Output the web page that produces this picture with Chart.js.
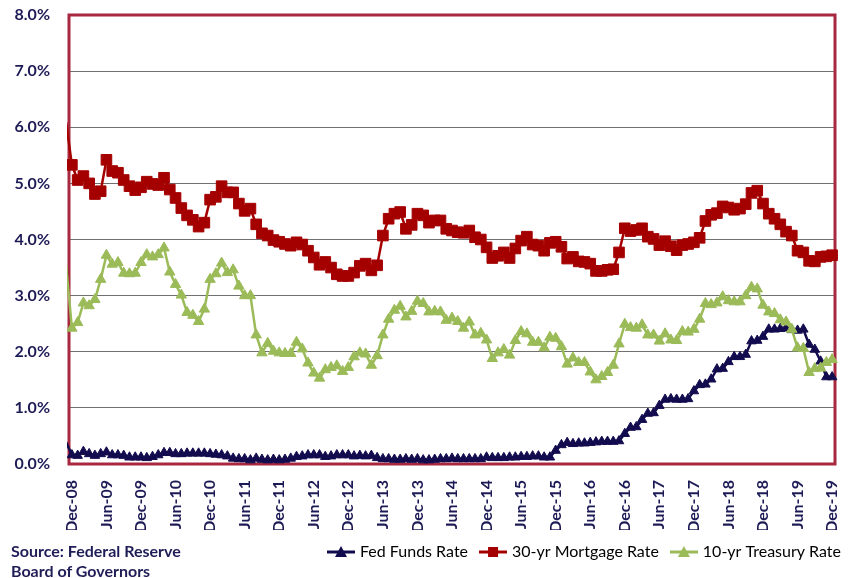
<!DOCTYPE html>
<html>
<head>
<meta charset="utf-8">
<script src="https://cdn.jsdelivr.net/npm/chart.js@4.4.1/dist/chart.umd.min.js"></script>
<style>
    html, body { margin: 0; padding: 0; background: #fff; }
    #wrap { position: relative; width: 852px; height: 578px; }
    #source { position: absolute; left: 11px; top: 541px; font: bold 16px Lato, sans-serif; color: #1f1d57; line-height: 20px; }
</style>
</head>
<body>
<div id="wrap">
    <canvas id="rates" width="852" height="578"></canvas>
    <div id="source">Source: Federal Reserve<br>Board of Governors</div>
</div>
<script>
// Monthly averages, Nov-08 (just off the left edge) through Dec-19, in percent
const fedFunds = [0.39, 0.16,
    0.15, 0.22, 0.18, 0.15, 0.18, 0.21, 0.16, 0.16, 0.15, 0.12, 0.12, 0.12, // 2009
    0.11, 0.13, 0.16, 0.20, 0.20, 0.18, 0.18, 0.19, 0.19, 0.19, 0.19, 0.18, // 2010
    0.17, 0.16, 0.14, 0.10, 0.09, 0.09, 0.07, 0.10, 0.08, 0.07, 0.08, 0.07, // 2011
    0.08, 0.10, 0.13, 0.14, 0.16, 0.16, 0.16, 0.13, 0.14, 0.16, 0.16, 0.16, // 2012
    0.14, 0.15, 0.14, 0.15, 0.11, 0.09, 0.09, 0.08, 0.08, 0.09, 0.08, 0.09, // 2013
    0.07, 0.07, 0.08, 0.09, 0.09, 0.10, 0.09, 0.09, 0.09, 0.09, 0.09, 0.12, // 2014
    0.11, 0.11, 0.11, 0.12, 0.12, 0.13, 0.13, 0.14, 0.14, 0.12, 0.12, 0.24, // 2015
    0.34, 0.38, 0.36, 0.37, 0.37, 0.38, 0.39, 0.40, 0.40, 0.40, 0.41, 0.54, // 2016
    0.65, 0.66, 0.79, 0.90, 0.91, 1.04, 1.15, 1.16, 1.15, 1.15, 1.16, 1.30, // 2017
    1.41, 1.42, 1.51, 1.69, 1.70, 1.82, 1.91, 1.91, 1.95, 2.19, 2.20, 2.27, // 2018
    2.40, 2.40, 2.41, 2.42, 2.39, 2.38, 2.40, 2.13, 2.04, 1.83, 1.55, 1.55  // 2019
];
const mortgage = [6.09, 5.33,
    5.06, 5.13, 5.00, 4.81, 4.86, 5.42, 5.22, 5.19, 5.06, 4.95, 4.88, 4.93,
    5.03, 4.99, 4.97, 5.10, 4.89, 4.74, 4.56, 4.43, 4.35, 4.23, 4.30, 4.71,
    4.76, 4.95, 4.84, 4.84, 4.64, 4.51, 4.55, 4.27, 4.11, 4.07, 3.99, 3.96,
    3.92, 3.89, 3.95, 3.91, 3.80, 3.68, 3.55, 3.60, 3.50, 3.38, 3.35, 3.35,
    3.41, 3.53, 3.57, 3.45, 3.54, 4.07, 4.37, 4.46, 4.49, 4.19, 4.26, 4.46,
    4.43, 4.30, 4.34, 4.34, 4.19, 4.16, 4.13, 4.12, 4.16, 4.04, 4.00, 3.86,
    3.67, 3.71, 3.77, 3.67, 3.84, 3.98, 4.05, 3.91, 3.89, 3.80, 3.94, 3.96,
    3.87, 3.66, 3.69, 3.61, 3.60, 3.57, 3.44, 3.44, 3.46, 3.47, 3.77, 4.20,
    4.15, 4.17, 4.20, 4.05, 4.01, 3.90, 3.97, 3.88, 3.81, 3.90, 3.92, 3.95,
    4.03, 4.33, 4.44, 4.47, 4.59, 4.57, 4.53, 4.55, 4.63, 4.83, 4.87, 4.64,
    4.46, 4.37, 4.27, 4.14, 4.07, 3.80, 3.77, 3.62, 3.61, 3.69, 3.70, 3.72
];
const treasury = [3.53, 2.42,
    2.52, 2.87, 2.82, 2.93, 3.29, 3.72, 3.56, 3.59, 3.40, 3.39, 3.40, 3.59,
    3.73, 3.69, 3.73, 3.85, 3.42, 3.20, 3.01, 2.70, 2.65, 2.54, 2.76, 3.29,
    3.39, 3.58, 3.41, 3.46, 3.17, 3.00, 3.00, 2.30, 1.98, 2.15, 2.01, 1.98,
    1.97, 1.97, 2.17, 2.05, 1.80, 1.62, 1.53, 1.68, 1.72, 1.75, 1.65, 1.72,
    1.91, 1.98, 1.96, 1.76, 1.93, 2.30, 2.58, 2.74, 2.81, 2.62, 2.72, 2.90,
    2.86, 2.71, 2.72, 2.71, 2.56, 2.60, 2.54, 2.42, 2.53, 2.30, 2.33, 2.21,
    1.88, 1.98, 2.04, 1.94, 2.20, 2.36, 2.32, 2.17, 2.17, 2.07, 2.26, 2.24,
    2.09, 1.78, 1.89, 1.81, 1.81, 1.64, 1.50, 1.56, 1.63, 1.76, 2.14, 2.49,
    2.43, 2.42, 2.48, 2.30, 2.30, 2.19, 2.32, 2.21, 2.20, 2.36, 2.35, 2.40,
    2.58, 2.86, 2.84, 2.87, 2.98, 2.91, 2.89, 2.89, 3.00, 3.15, 3.12, 2.83,
    2.71, 2.68, 2.57, 2.53, 2.40, 2.07, 2.06, 1.63, 1.70, 1.71, 1.81, 1.86
];

// one tick every 6 months, starting at Dec-08
const tickLabels = ['Dec-08', 'Jun-09', 'Dec-09', 'Jun-10', 'Dec-10', 'Jun-11', 'Dec-11',
    'Jun-12', 'Dec-12', 'Jun-13', 'Dec-13', 'Jun-14', 'Dec-14', 'Jun-15', 'Dec-15',
    'Jun-16', 'Dec-16', 'Jun-17', 'Dec-17', 'Jun-18', 'Dec-18', 'Jun-19', 'Dec-19'];

const navy = '#120c4f';
const red = '#a50000';
const green = '#9bbb59';
const labelColor = '#1d1b55';

// month index: Dec-08 = 0, so the Nov-08 value sits at -1 (clipped)
function toPoints(values) {
    return values.map((v, i) => ({ x: i - 1, y: v }));
}

// small line+marker picture for the legend
function legendIcon(color, shape) {
    const c = document.createElement('canvas');
    c.width = 28;
    c.height = 14;
    const g = c.getContext('2d');
    g.strokeStyle = color;
    g.lineWidth = 3;
    g.beginPath();
    g.moveTo(0, 7);
    g.lineTo(28, 7);
    g.stroke();
    g.fillStyle = color;
    g.beginPath();
    if (shape === 'rect') {
        g.rect(9, 2, 10, 10);
    } else {
        g.moveTo(14, 1);
        g.lineTo(20, 12);
        g.lineTo(8, 12);
        g.closePath();
    }
    g.fill();
    return c;
}

function makeDataset(label, values, color, shape, radius) {
    return {
        label: label,
        data: toPoints(values),
        borderColor: color,
        backgroundColor: color,
        borderWidth: 2.5,
        pointStyle: shape,
        pointRadius: ctx => ctx.dataIndex === 0 ? 0 : radius,
        pointBorderWidth: 1,
        pointBorderColor: color,
        pointBackgroundColor: color,
        tension: 0,
        clip: { left: 2, top: 8, right: 8, bottom: 8 }
    };
}

// dark red frame round the plot area, under the series
const plotBorder = {
    id: 'plotBorder',
    beforeDatasetsDraw(chart) {
        const { ctx, chartArea: a } = chart;
        ctx.save();
        ctx.strokeStyle = '#a8283f';
        ctx.lineWidth = 3;
        ctx.strokeRect(a.left, a.top, a.right - a.left, a.bottom - a.top);
        ctx.restore();
    }
};

// push the legend a little further right, nearer the canvas edge
const legendShift = {
    id: 'legendShift',
    afterLayout(chart) {
        chart.legend.left += 20;
        chart.legend.right += 20;
    }
};

const datasets = [
    makeDataset('Fed Funds Rate', fedFunds, navy, 'triangle', 5.5),
    makeDataset('30-yr Mortgage Rate', mortgage, red, 'rect', 7.5),
    makeDataset('10-yr Treasury Rate', treasury, green, 'triangle', 6)
];
// later series drawn on top, like the original
datasets.forEach((d, i) => { d.order = datasets.length - i; });

const ctx = document.getElementById('rates').getContext('2d');
new Chart(ctx, {
    type: 'line',
    data: { datasets: datasets },
    options: {
        responsive: false,
        animation: false,
        devicePixelRatio: 1,
        layout: { padding: { top: 15, right: 17, bottom: 8, left: 0 } },
        scales: {
            x: {
                type: 'linear',
                min: -0.5,
                max: 132.5,
                afterBuildTicks: scale => {
                    scale.ticks = tickLabels.map((t, i) => ({ value: i * 6 }));
                },
                afterFit: scale => {
                    scale.height = 66;
                    scale.paddingLeft = 0;
                    scale.paddingRight = 0;
                },
                grid: { display: false },
                border: { display: false },
                ticks: {
                    autoSkip: false,
                    minRotation: 90,
                    maxRotation: 90,
                    padding: 8,
                    color: labelColor,
                    font: { family: 'Lato', size: 16, weight: 'bold' },
                    callback: v => tickLabels[Math.round(v / 6)]
                }
            },
            y: {
                min: 0,
                max: 8,
                afterFit: scale => {
                    scale.width = 69;
                    scale.paddingTop = 0;
                    scale.paddingBottom = 0;
                },
                grid: { color: '#707070', lineWidth: 1, drawTicks: false },
                border: { display: false },
                ticks: {
                    stepSize: 1,
                    padding: 19,
                    color: labelColor,
                    font: { family: 'Lato', size: 16, weight: 'bold' },
                    callback: v => v.toFixed(1) + '%'
                }
            }
        },
        plugins: {
            tooltip: { enabled: false },
            legend: {
                position: 'bottom',
                align: 'end',
                labels: {
                    usePointStyle: true,
                    pointStyleWidth: 22,
                    boxHeight: 14,
                    padding: 14,
                    color: '#1a1a1a',
                    font: { family: 'Lato', size: 16 },
                    generateLabels: chart => chart.data.datasets.map((ds, i) => ({
                        text: ds.label,
                        pointStyle: legendIcon(ds.borderColor, ds.pointStyle),
                        fillStyle: ds.borderColor,
                        strokeStyle: ds.borderColor,
                        lineWidth: 0,
                        hidden: !chart.isDatasetVisible(i),
                        datasetIndex: i
                    }))
                }
            }
        }
    },
    plugins: [plotBorder, legendShift]
});
</script>
</body>
</html>
